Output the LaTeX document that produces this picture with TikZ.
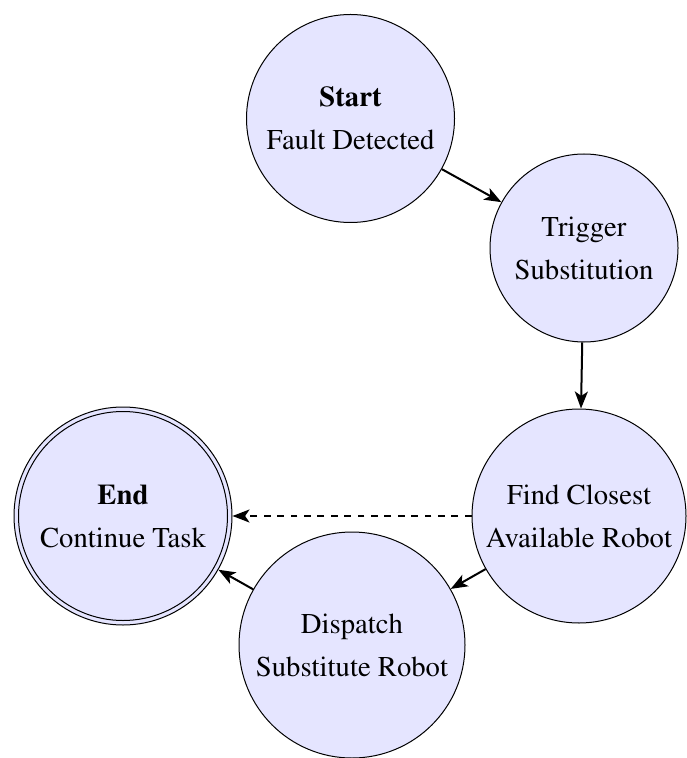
\documentclass[tikz,border=0pt]{standalone}
\usepackage[T1]{fontenc}
\usepackage{times}
\usetikzlibrary{arrows.meta}
\definecolor{statefill}{RGB}{229,229,255}
\begin{document}
\begin{tikzpicture}[x=0.5pt,y=-0.5pt,
  state/.style={circle, draw=black, line width=0.5pt, fill=statefill,
    align=center, inner sep=0pt,
    font=\fontsize{14.35}{21.5}\selectfont},
  flow/.style={line width=1pt, -{Stealth[length=8.5pt,width=6.5pt,inset=2.2pt]}},
  altflow/.style={flow, dash pattern=on 3.4pt off 3.3pt}]
  \useasboundingbox (0,0) rectangle (686,758);

  \node[state, minimum size=104pt] (start) at (350.5,118.5) {\textbf{Start}\\Fault Detected};
  \node[state, minimum size=94pt] (trigger) at (584,248) {Trigger\\Substitution};
  \node[state, minimum size=107pt] (find) at (579,516) {Find Closest\\Available Robot};
  \node[state, minimum size=113pt] (dispatch) at (352,645) {Dispatch\\Substitute Robot};
  \node[state, minimum size=109pt] (end) at (123,516) {\textbf{End}\\Continue Task};
  \draw[line width=0.5pt] (end.center) circle[radius=104.5];

  \draw[flow] (start) -- (trigger);
  \draw[flow] (trigger) -- (find);
  \draw[flow] (find) -- (dispatch);
  \draw[flow] (dispatch) -- (end);
  \draw[altflow] (find) -- (end);
\end{tikzpicture}
\end{document}
